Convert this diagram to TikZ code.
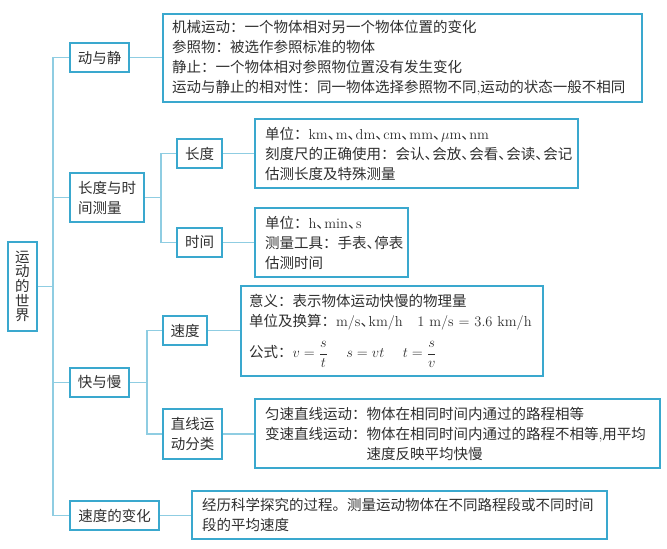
\documentclass[tikz,border=0pt]{standalone}
\usepackage{fontspec}
\usepackage{amsmath}
\newfontfamily\cjk{Noto Sans CJK SC}
\newcommand{\dn}{\makebox[0.55em][l]{、}}
\definecolor{boxc}{HTML}{3AA8CE}
\definecolor{linkc}{HTML}{8FCDE2}
\definecolor{txtc}{HTML}{2E2E2E}
\tikzset{
  base/.style={draw=boxc, line width=1.8pt, text=txtc, inner sep=0pt,
    font=\cjk\fontsize{14.5}{20}\selectfont},
  lbl/.style={base, align=left},
  cbox/.style={base, align=left, inner xsep=9pt},
  link/.style={draw=linkc, line width=1.1pt}
}
\begin{document}
\begin{tikzpicture}[x=1pt,y=-1pt]
\useasboundingbox (0,0) rectangle (667,549);
% left root
\node[lbl, minimum width=29pt, minimum height=89pt, font=\cjk\fontsize{14.5}{14.6}\selectfont, align=center] (world) at (22.5,286.5) {运\\动\\的\\世\\界};
% level 1
\node[lbl, minimum width=59pt, minimum height=29pt] (dj) at (99.5,57.5) {动与静};
\node[lbl, minimum width=74pt, minimum height=49pt] (ldsj) at (107,197.5) {长度与时\\间测量};
\node[lbl, minimum width=59pt, minimum height=29pt] (km) at (99.5,382.5) {快与慢};
\node[lbl, minimum width=89pt, minimum height=29pt] (bh) at (114.5,515.5) {速度的变化};
% level 2
\node[lbl, minimum width=45pt, minimum height=29pt] (cd) at (199.5,153.5) {长度};
\node[lbl, minimum width=45pt, minimum height=29pt] (sj) at (199.5,242.5) {时间};
\node[lbl, minimum width=44pt, minimum height=29pt] (sd) at (185,330.5) {速度};
\node[lbl, minimum width=59pt, minimum height=50pt] (zx) at (192.5,434) {直线运\\动分类};
% content boxes
\node[cbox, minimum width=479pt, minimum height=88pt, text width=461pt] (tA) at (402.5,58) {机械运动：一个物体相对另一个物体位置的变化\\参照物：被选作参照标准的物体\\静止：一个物体相对参照物位置没有发生变化\\运动与静止的相对性：同一物体选择参照物不同\textrm{,}运动的状态一般不相同};
\node[cbox, inner xsep=10pt, minimum width=323pt, minimum height=69pt, text width=303pt] (tB) at (416.5,153.5) {单位：\textrm{km}\dn\textrm{m}\dn\textrm{dm}\dn\textrm{cm}\dn\textrm{mm}\dn$\mu$\textrm{m}\dn\textrm{nm}\\刻度尺的正确使用：会认\dn 会放\dn 会看\dn 会读\dn 会记\\估测长度及特殊测量};
\node[cbox, inner xsep=10pt, minimum width=153pt, minimum height=69pt, text width=133pt] (tC) at (331.5,242.5) {单位：\textrm{h}\dn\textrm{min}\dn\textrm{s}\\测量工具：手表\dn 停表\\估测时间};
\node[cbox, inner xsep=8pt, minimum width=302pt, minimum height=90pt, text width=286pt] (tD) at (392,331) {意义：表示物体运动快慢的物理量\\单位及换算：\textrm{m/s}\dn\textrm{km/h}\quad \textrm{1 m/s} $=$ \textrm{3.6 km/h}\\[11pt]公式：$v=\dfrac{s}{t}\quad\; s=vt\quad\; t=\dfrac{s}{v}$};
\node[cbox, inner xsep=10pt, minimum width=405pt, minimum height=69pt, text width=385pt] (tE) at (457.5,433.5) {匀速直线运动：物体在相同时间内通过的路程相等\\变速直线运动：物体在相同时间内通过的路程不相等\textrm{,}用平均\\\hphantom{变速直线运动：}速度反映平均快慢};
\node[cbox, inner xsep=10pt, minimum width=415pt, minimum height=48pt, text width=395pt] (tF) at (399.5,515) {经历科学探究的过程。测量运动物体在不同路程段或不同时间\\段的平均速度};
% spine coordinates
\coordinate (sp) at (53,0);
\coordinate (ss1) at (161,0);
\coordinate (ss2) at (147,0);
% connectors
\draw[link] (dj.west) -- (dj.west -| sp) |- (bh.west);
\draw[link] (world.east) -- (world.east -| sp);
\draw[link] (ldsj.west) -- (ldsj.west -| sp);
\draw[link] (km.west) -- (km.west -| sp);
\draw[link] (dj.east) -- (tA.west |- dj.east);
\draw[link] (cd.west) -- (cd.west -| ss1) |- (sj.west);
\draw[link] (ldsj.east) -- (ldsj.east -| ss1);
\draw[link] (cd.east) -- (tB.west |- cd.east);
\draw[link] (sj.east) -- (tC.west |- sj.east);
\draw[link] (sd.west) -- (sd.west -| ss2) |- (zx.west);
\draw[link] (km.east) -- (km.east -| ss2);
\draw[link] (sd.east) -- (tD.west |- sd.east);
\draw[link] (zx.east) -- (tE.west |- zx.east);
\draw[link] (bh.east) -- (tF.west |- bh.east);
\end{tikzpicture}
\end{document}
